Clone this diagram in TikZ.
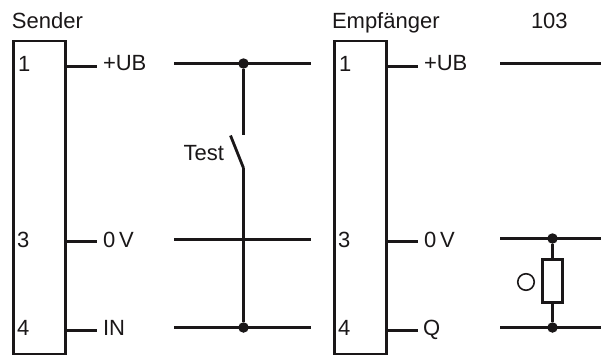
\documentclass[tikz,border=0pt]{standalone}
\usepackage{fontspec}
\setmainfont{Liberation Sans}
\definecolor{ink}{HTML}{1A1718}
\tikzset{
  x=1pt,y=-1pt,
  lab/.style={anchor=base west,inner sep=0pt,outer sep=0pt,text=ink,font=\fontsize{22pt}{24pt}\selectfont},
  unit/.style={draw=ink,line width=2.8pt,minimum width=52pt,minimum height=313pt,inner sep=0pt,outer sep=0pt,anchor=north west},
  stub/.style={draw=ink,line width=2.8pt},
  wire/.style={draw=ink,line width=3.2pt},
  dot/.style={circle,fill=ink,draw=none,minimum size=10.5pt,inner sep=0pt,outer sep=0pt},
  res/.style={draw=ink,line width=2.8pt,fill=white,minimum width=20pt,minimum height=43pt,inner sep=0pt,outer sep=0pt},
  ring/.style={circle,draw=ink,line width=1.6pt,minimum size=16.5pt,inner sep=0pt,outer sep=0pt},
}
\begin{document}
\begin{tikzpicture}
\useasboundingbox (0,0) rectangle (601,356);
% boxes
\node[unit] (S) at (13.5,41) {};
\node[unit] (E) at (334.5,41) {};
% headings
\node[lab] (tS) at (12,28) {Sender};
\node[lab] (tE) at (332,28) {Empfänger};
\node[lab] (t103) at (531,28) {103};
% pin numbers
\node[lab] (s1) at (18,71) {1};
\node[lab] (s3) at (17,247) {3};
\node[lab] (s4) at (17,335) {4};
\node[lab] (e1) at (339,71) {1};
\node[lab] (e3) at (338,247) {3};
\node[lab] (e4) at (338,335) {4};
% stub labels
\node[lab] (a1) at (103,70) {+UB};
\node[lab] (a3) at (103,247) {0\kern4pt V};
\node[lab] (a4) at (103,335) {IN};
\node[lab] (b1) at (424,70) {+UB};
\node[lab] (b3) at (424,247) {0\kern4pt V};
\node[lab] (b4) at (423,335) {Q};
% stubs
\coordinate (a1w) at (97,66.5); \coordinate (a3w) at (97,241.5); \coordinate (a4w) at (97,330.5);
\coordinate (b1w) at (418,66.5); \coordinate (b3w) at (418,241.5); \coordinate (b4w) at (418,330.5);
\draw[stub] (S.east |- a1w) -- (a1w);
\draw[stub] (S.east |- a3w) -- (a3w);
\draw[stub] (S.east |- a4w) -- (a4w);
\draw[stub] (E.east |- b1w) -- (b1w);
\draw[stub] (E.east |- b3w) -- (b3w);
\draw[stub] (E.east |- b4w) -- (b4w);
% left bus
\coordinate (L1a) at (174,63.5); \coordinate (L1b) at (311,63.5);
\coordinate (L3a) at (174,239.5); \coordinate (L3b) at (311,239.5);
\coordinate (L4a) at (174,327.5); \coordinate (L4b) at (311,327.5);
\draw[wire] (L1a) -- (L1b);
\draw[wire] (L3a) -- (L3b);
\draw[wire] (L4a) -- (L4b);
\node[dot] (d1) at (243.5,63.5) {};
\node[dot] (d4) at (243.5,327.5) {};
\coordinate (swT) at (243.5,135);
\coordinate (swB) at (243.5,168);
\coordinate (swA) at (230.5,135.5);
\draw[wire] (d1) -- (swT);
\draw[wire] (swB) -- (d4);
\draw[stub] (swA) -- (swB);
\node[lab] (test) at (183.5,160) {Test};
% right bus
\coordinate (R1a) at (500,63.5); \coordinate (R1b) at (601,63.5);
\coordinate (R3a) at (500,238.5); \coordinate (R3b) at (601,238.5);
\coordinate (R4a) at (500,327.5); \coordinate (R4b) at (601,327.5);
\draw[wire] (R1a) -- (R1b);
\draw[wire] (R3a) -- (R3b);
\draw[wire] (R4a) -- (R4b);
\node[dot] (d3) at (552.5,238.5) {};
\node[dot] (d5) at (552.5,327.5) {};
\node[res] (R) at (552.5,281) {};
\draw[wire] (d3) -- (R);
\draw[wire] (R) -- (d5);
\node[ring] (O) at (526,282) {};
\end{tikzpicture}
\end{document}
